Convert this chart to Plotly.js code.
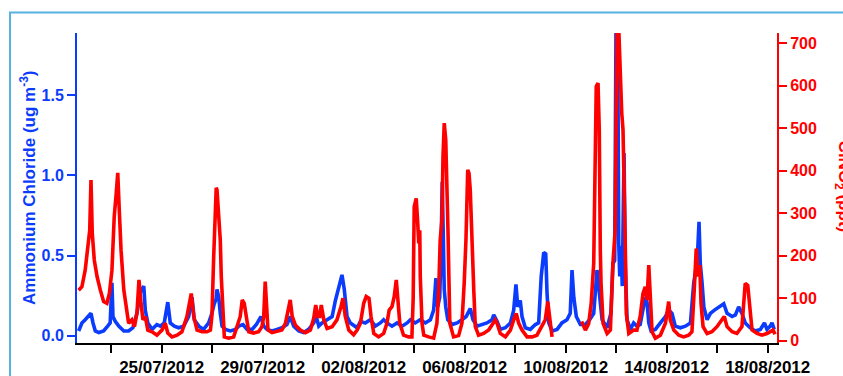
<!DOCTYPE html>
<html>
<head>
<meta charset="utf-8">
<script src="https://cdn.plot.ly/plotly-3.0.1.min.js"></script>
<style>
  html, body { margin: 0; padding: 0; background: #fff; overflow: hidden; }
  #chart { width: 843px; height: 376px; }
</style>
</head>
<body>
<div id="chart"></div>
<script>
// Time axis: fractional days since 2012-07-21 00:00 (UTC)
const START = Date.UTC(2012, 6, 21);

// Ammonium chloride (ug m-3)
const nh4clDay = [
  0.71, 0.84, 0.97, 1.11, 1.20, 1.28, 1.37, 1.51, 1.70, 1.86, 1.96, 2.03, 2.07, 2.16, 2.30, 2.50,
  2.69, 2.86, 3.02, 3.15, 3.29, 3.35, 3.45, 3.62, 3.81, 3.95, 4.10, 4.24, 4.34, 4.50, 4.67, 4.87,
  5.07, 5.20, 5.29, 5.47, 5.66, 5.86, 5.99, 6.08, 6.16, 6.19, 6.26, 6.32, 6.39, 6.52, 6.72, 6.92,
  7.05, 7.22, 7.38, 7.58, 7.75, 7.93, 8.04, 8.17, 8.37, 8.57, 8.76, 8.96, 9.09, 9.23, 9.43, 9.62,
  9.82, 10.02, 10.12, 10.22, 10.35, 10.55, 10.75, 10.88, 11.01, 11.14, 11.23, 11.34, 11.47, 11.74,
  11.87, 12.06, 12.26, 12.46, 12.66, 12.79, 12.92, 13.12, 13.32, 13.52, 13.72, 13.85, 14.04, 14.24,
  14.44, 14.64, 14.77, 14.86, 14.93, 15.01, 15.06, 15.11, 15.15, 15.19, 15.25, 15.33, 15.50, 15.70,
  15.89, 16.06, 16.22, 16.33, 16.49, 16.69, 16.88, 17.08, 17.15, 17.28, 17.41, 17.61, 17.81, 17.94,
  18.03, 18.10, 18.20, 18.27, 18.40, 18.60, 18.80, 18.93, 19.03, 19.13, 19.21, 19.26, 19.33, 19.46,
  19.66, 19.85, 20.05, 20.18, 20.25, 20.32, 20.42, 20.58, 20.78, 20.95, 21.11, 21.24, 21.32, 21.44,
  21.64, 21.79, 21.87, 21.94, 21.99, 22.06, 22.10, 22.14, 22.19, 22.24, 22.31, 22.36, 22.43, 22.56,
  22.69, 22.82, 22.95, 23.06, 23.15, 23.22, 23.29, 23.38, 23.55, 23.75, 23.95, 24.08, 24.21, 24.34,
  24.54, 24.74, 24.94, 25.07, 25.15, 25.21, 25.28, 25.33, 25.40, 25.47, 25.60, 25.73, 25.89, 26.06,
  26.26, 26.39, 26.59, 26.72, 26.85, 26.98, 27.11, 27.31, 27.51, 27.71, 27.87, 27.97, 28.10, 28.17,
  28.26
];
const nh4cl = [
  0.03, 0.08, 0.10, 0.12, 0.14, 0.08, 0.03, 0.02, 0.03, 0.06, 0.08, 0.33, 0.12, 0.09, 0.06, 0.03,
  0.03, 0.05, 0.14, 0.27, 0.31, 0.16, 0.08, 0.04, 0.07, 0.06, 0.08, 0.21, 0.08, 0.06, 0.05, 0.06,
  0.12, 0.24, 0.10, 0.06, 0.04, 0.08, 0.14, 0.20, 0.23, 0.29, 0.24, 0.14, 0.06, 0.04, 0.03, 0.04,
  0.06, 0.07, 0.04, 0.04, 0.07, 0.12, 0.06, 0.04, 0.03, 0.04, 0.05, 0.07, 0.12, 0.06, 0.03, 0.02,
  0.04, 0.08, 0.12, 0.06, 0.08, 0.10, 0.12, 0.22, 0.31, 0.38, 0.29, 0.12, 0.08, 0.05,
  0.09, 0.08, 0.10, 0.06, 0.08, 0.10, 0.08, 0.06, 0.08, 0.06, 0.08, 0.10, 0.08, 0.10,
  0.08, 0.10, 0.16, 0.36, 0.18, 0.24, 0.49, 0.96, 0.64, 0.29, 0.18, 0.10, 0.07, 0.08,
  0.10, 0.12, 0.17, 0.10, 0.06, 0.07, 0.08, 0.10, 0.13, 0.09, 0.04, 0.05, 0.08, 0.16,
  0.32, 0.18, 0.22, 0.12, 0.05, 0.04, 0.07, 0.08, 0.37, 0.52, 0.51, 0.27, 0.08, 0.03,
  0.04, 0.08, 0.10, 0.14, 0.41, 0.24, 0.12, 0.07, 0.07, 0.10, 0.14, 0.41, 0.27, 0.10,
  0.05, 0.14, 0.45, 0.47, 1.88, 1.88, 0.58, 0.37, 0.56, 0.31, 1.14, 0.45, 0.10, 0.04,
  0.08, 0.06, 0.07, 0.18, 0.24, 0.21, 0.08, 0.03, 0.04, 0.08, 0.12, 0.16, 0.14, 0.06,
  0.05, 0.06, 0.08, 0.33, 0.43, 0.47, 0.71, 0.45, 0.33, 0.18, 0.10, 0.14, 0.16, 0.18,
  0.20, 0.14, 0.12, 0.13, 0.18, 0.14, 0.08, 0.05, 0.03, 0.04, 0.08, 0.04, 0.06, 0.08,
  0.04
];

// ClNO2 (ppt); null marks a gap in the record
const clno2Day = [
  0.71, 0.84, 0.97, 1.07, 1.15, 1.20, 1.25, 1.33, 1.44, 1.57, 1.70, 1.83, 1.93, 2.03, 2.12, 2.20,
  2.26, 2.32, 2.39, 2.50, 2.60, 2.69, 2.82, 2.92, 3.02, 3.10, 3.18, 3.26, 3.35, 3.45, 3.62, 3.81,
  4.01, 4.14, 4.24, 4.41, 4.61, 4.80, 5.00, 5.17, 5.27, 5.40, 5.60, 5.79, 5.93, 5.99, 6.06, 6.12,
  6.16, 6.19, 6.26, 6.32, 6.36, 6.42, 6.48, 6.65, 6.85, 6.98, 7.11, 7.19, 7.27, 7.35, 7.45, 7.64,
  7.84, 7.97, 8.04, 8.10, 8.16, 8.21, 8.37, 8.57, 8.76, 8.90, 9.00, 9.09, 9.17, 9.29, 9.49, 9.69,
  9.89, 10.02, 10.10, 10.18, 10.26, 10.32, 10.42, 10.55, 10.75, 10.94, 11.10, 11.18, 11.27, 11.41,
  11.60, 11.74, 11.87, 12.00, 12.10, 12.21, 12.29, 12.40, 12.59, 12.79, 12.92, 13.01, 13.12, 13.21,
  13.29, 13.35, 13.43, 13.58, 13.78, 13.91, 13.96, 14.00, 14.08, 14.14, 14.18, 14.22, 14.24, 14.31,
  14.38, 14.57, 14.77, 14.90, 14.97, 15.03, 15.10, 15.14, 15.19, 15.25, 15.29, 15.34, 15.41, 15.56,
  15.76, 15.89, 15.98, 16.05, 16.12, 16.17, 16.22, 16.29, 16.36, 16.42, 16.55, 16.75, 16.95, 17.08,
  17.21, 17.28, 17.41, 17.61, 17.81, 17.94, 18.04, 18.14, 18.27, 18.47, 18.67, 18.86, 19.19, 19.29,
  19.37, 19.46, 20.00, 20.63, 20.78, 20.91, 21.01, 21.11, 21.16, 21.21, 21.28, 21.33, 21.37, 21.40,
  21.48, 21.64, 21.77, 21.87, 21.96, 22.03, 22.11, 22.16, 22.22, 22.27, 22.32, 22.36, 22.40, 22.50,
  22.69, 22.82, 22.95, 23.06, 23.15, 23.22, 23.29, 23.35, 23.42, 23.55, 23.75, 23.95, 24.08, 24.14,
  24.28, 24.48, 24.67, 24.87, 25.00, 25.09, 25.17, 25.24, 25.31, 25.36, 25.44, 25.60, 25.79, 25.99,
  26.19, 26.28, 26.39, 26.59, 26.78, 26.98, 27.11, 27.21, 27.29, 27.38, 27.58, 27.77, 27.97, 28.10,
  28.21, 28.29
];
const clno2 = [
  119, 127, 166, 230, 260, 378, 253, 190, 151, 119, 92, 88, 112, 166, 292, 347,
  395, 307, 213, 119, 72, 41, 49, 33, 65, 143, 88, 49, 57, 25, 21, 13,
  25, 41, 18, 9, 13, 21, 57, 111, 57, 25, 21, 21, 25, 60, 198, 347,
  360, 355, 292, 237, 151, 72, 9, 6, 9, 33, 57, 96, 88, 57, 21, 18,
  21, 33, 57, 139, 80, 25, 19, 21, 25, 41, 72, 96, 57, 37, 25, 19,
  25, 53, 84, 57, 57, 84, 49, 29, 33, 49, 80, 100, 57, 25,
  14, 25, 41, 88, 104, 100, 57, 17, 9, 17, 41, 72, 80, 104,
  143, 88, 41, 13, 9, 9, 100, 315, 335, 276, 229, 260, 151, 41,
  13, 9, 6, 41, 119, 237, 284, 433, 512, 472, 394, 253, 41, 9,
  12, 41, 135, 237, 402, 394, 355, 260, 119, 33, 13, 17, 25, 37,
  49, 41, 17, 9, 25, 49, 64, 41, 25, 9, 9, 13, 49, 92,
  49, 9, null, 45, 25, 40, 88, 182, 417, 598, 606, 496, 213, 135,
  41, 17, 25, 182, 260, 720, 720, 613, 535, 496, 378, 221, 64, 17,
  25, 25, 57, 111, 127, 96, 178, 80, 21, 6, 13, 41, 92, 49,
  25, 13, 9, 13, 21, 119, 217, 151, 178, 88, 33, 17, 21, 33,
  49, 57, 33, 21, 17, 33, 135, 130, 80, 25, 17, 13, 17, 21,
  25, 15
];

function pad(n) { return String(n).padStart(2, '0'); }
function dayToStamp(d) {
  const t = new Date(START + Math.round(d * 86400000 / 60000) * 60000);
  return t.getUTCFullYear() + '-' + pad(t.getUTCMonth() + 1) + '-' + pad(t.getUTCDate()) +
    ' ' + pad(t.getUTCHours()) + ':' + pad(t.getUTCMinutes());
}

const BLUE = '#0b3cfd';
const RED = '#ff0000';
const FONT = 'Liberation Sans, Arial, Helvetica, sans-serif';
const DAY = 86400000;

const traces = [
  {
    x: nh4clDay.map(dayToStamp), y: nh4cl, yaxis: 'y',
    type: 'scatter', mode: 'lines', name: 'Ammonium Chloride',
    line: { color: BLUE, width: 3.6, shape: 'linear' }
  },
  {
    x: clno2Day.map(dayToStamp), y: clno2, yaxis: 'y2',
    type: 'scatter', mode: 'lines', name: 'ClNO2', connectgaps: false,
    line: { color: RED, width: 3.6, shape: 'linear' }
  }
];

const layout = {
  width: 843, height: 376,
  margin: { l: 77, r: 66, t: 33, b: 33, pad: 0 },
  paper_bgcolor: '#fff', plot_bgcolor: '#fff',
  showlegend: false,
  font: { family: FONT },
  xaxis: {
    type: 'date',
    range: ['2012-07-21 15:30', '2012-08-18 08:50'],
    tick0: '2012-07-25', dtick: 4 * DAY, tickformat: '%d/%m/%Y',
    ticks: 'outside', ticklen: 8, tickwidth: 2, tickcolor: '#000',
    minor: { tick0: '2012-07-23', dtick: 2 * DAY, ticks: 'outside', ticklen: 8, tickwidth: 2, tickcolor: '#000', showgrid: false },
    showline: true, linecolor: '#000', linewidth: 2,
    showgrid: false, zeroline: false,
    tickfont: { family: FONT, size: 17, color: '#000', weight: 'bold' }
  },
  yaxis: {
    range: [-0.045, 1.888], tick0: 0, dtick: 0.5, tickformat: '.1f',
    ticks: 'outside', ticklen: 8, tickwidth: 2, tickcolor: BLUE,
    showline: true, linecolor: BLUE, linewidth: 2,
    showgrid: false, zeroline: false,
    tickfont: { family: FONT, size: 16, color: BLUE, weight: 'bold' }
  },
  yaxis2: {
    overlaying: 'y', side: 'right', anchor: 'x',
    range: [-5.4, 724], tick0: 0, dtick: 100,
    ticks: 'outside', ticklen: 8, tickwidth: 2, tickcolor: RED,
    showline: true, linecolor: RED, linewidth: 2,
    showgrid: false, zeroline: false,
    tickfont: { family: FONT, size: 16, color: RED, weight: 'bold' }
  },
  annotations: [
    {
      xref: 'paper', yref: 'paper', x: -0.07, y: 0.5, xanchor: 'center', yanchor: 'middle',
      text: 'Ammonium Chloride (ug m<sup>-3</sup>)', textangle: -90, showarrow: false,
      font: { family: FONT, size: 17, color: BLUE, weight: 'bold' }
    },
    {
      xref: 'paper', yref: 'paper', x: 1.0945, y: 0.504, xanchor: 'center', yanchor: 'middle',
      text: 'ClNO<sub>2</sub> (ppt)', textangle: 90, showarrow: false,
      font: { family: FONT, size: 17, color: RED, weight: 'bold' }
    }
  ],
  shapes: [
    {
      type: 'rect', xref: 'paper', yref: 'paper', layer: 'below',
      x0: -0.0957, x1: 1.3, y0: -0.3, y1: 1.066,
      line: { color: '#58b2df', width: 2 }, fillcolor: 'rgba(0,0,0,0)'
    }
  ]
};

Plotly.newPlot('chart', traces, layout, { staticPlot: true, displayModeBar: false });
</script>
</body>
</html>
